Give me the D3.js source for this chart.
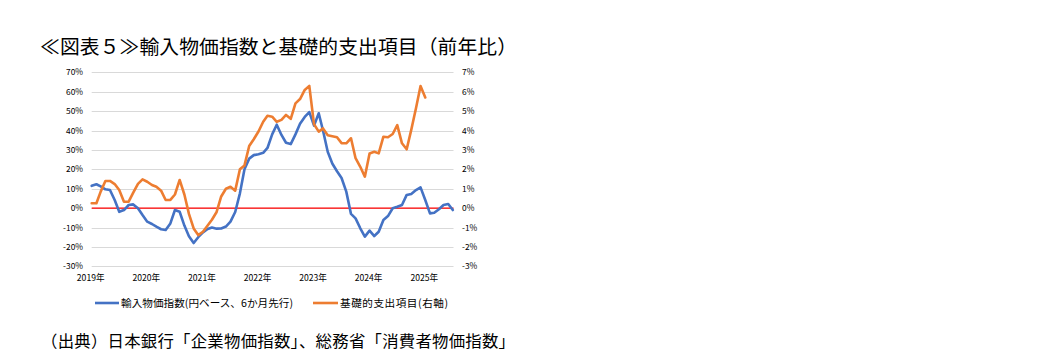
<!DOCTYPE html>
<html><head><meta charset="utf-8">
<script src="https://cdn.jsdelivr.net/npm/d3@7/dist/d3.min.js"></script>
<style>
html,body{margin:0;padding:0;background:#fff;}
svg{display:block;}
text{font-family:"Noto Sans CJK JP","Noto Sans",sans-serif;}
</style></head>
<body>
<svg id="c" width="1060" height="361"></svg>
<script>
// ---- data ----
const startMonth = "2019-01";
const yearLabels = ["2019年","2020年","2021年","2022年","2023年","2024年","2025年"];
const leftTicks = [70,60,50,40,30,20,10,0,-10,-20,-30];
const rightTicks = [7,6,5,4,3,2,1,0,-1,-2,-3];
const seriesNames = ["輸入物価指数(円ベース、6か月先行)","基礎的支出項目(右軸)"];
// import price index (yen basis, shifted 6 months ahead), % y/y, left axis
const importPrice = [
 11.5,12.3,11.2,9.7,9.3,4.2,-1.9,-1.0,1.6,1.9,-0.1,-3.6,
 -7.0,-8.2,-9.6,-10.9,-11.3,-7.9,-1.0,-1.9,-9.0,-14.5,-18.0,-15.0,
 -12.5,-10.8,-10.0,-10.6,-10.5,-9.5,-7.0,-2.0,7.6,20.0,25.5,27.3,
 27.8,28.5,31.0,38.0,43.0,37.7,33.7,33.0,38.0,43.5,47.0,49.5,
 42.5,48.9,40.0,29.0,23.0,19.0,15.5,8.5,-3.0,-5.3,-10.4,-14.7,
 -11.6,-14.4,-12.2,-6.1,-4.1,-0.1,0.7,1.6,6.8,7.3,9.3,10.7,
 4.2,-2.7,-2.4,-0.6,1.6,2.1,-1.0
];
// basic expenditure items CPI, % y/y, right axis
const basicItems = [
 0.25,0.25,0.85,1.40,1.40,1.24,0.93,0.33,0.33,0.80,1.25,1.48,
 1.36,1.19,1.10,0.90,0.42,0.42,0.70,1.45,0.70,-0.30,-1.05,-1.39,
 -1.22,-0.90,-0.60,-0.20,0.60,1.00,1.10,0.90,2.00,2.20,3.20,3.55,
 3.95,4.45,4.76,4.71,4.45,4.55,4.80,4.60,5.40,5.62,6.09,6.30,
 4.32,3.94,4.11,3.75,3.70,3.65,3.35,3.34,3.60,2.57,2.13,1.62,
 2.82,2.90,2.82,3.68,3.65,3.82,4.28,3.34,3.03,4.03,5.15,6.29,
 5.70
];

// ---- layout ----
const svg = d3.select("#c");
svg.append("rect").attr("width",1060).attr("height",361).attr("fill","#fff");
const x0 = 91.7, x1 = 452.8, yTop = 72.3, yBot = 266.3;
const parse = d3.timeParse("%Y-%m");
const t0 = parse(startMonth);
const datesB = importPrice.map((d,i)=>d3.timeMonth.offset(t0,i));
const datesO = basicItems.map((d,i)=>d3.timeMonth.offset(t0,i));
const x = d3.scaleTime().domain([t0, datesB[datesB.length-1]]).range([x0,x1]);
const yL = d3.scaleLinear().domain([-30,70]).range([yBot,yTop]);
const yR = d3.scaleLinear().domain([-3,7]).range([yBot,yTop]);

// gridlines
svg.append("g").selectAll("line").data(leftTicks).join("line")
  .attr("x1",x0).attr("x2",453.5)
  .attr("y1",d=>Math.round(yL(d))+0.5).attr("y2",d=>Math.round(yL(d))+0.5)
  .attr("stroke","#d9d9d9").attr("stroke-width",1);

// left axis labels
svg.append("g").selectAll("text").data(leftTicks).join("text")
  .attr("x",83).attr("y",d=>yL(d)+3)
  .attr("text-anchor","end").attr("font-size",8.4).attr("fill","#000")
  .text(d=>d+"%");
// right axis labels
svg.append("g").selectAll("text").data(rightTicks).join("text")
  .attr("x",462).attr("y",d=>yR(d)+3)
  .attr("text-anchor","start").attr("font-size",8.4).attr("fill","#000")
  .text(d=>d+"%");
// x axis labels
const yearDates = yearLabels.map((s,i)=>d3.timeYear.offset(t0,i));
svg.append("g").selectAll("text").data(yearLabels).join("text")
  .attr("x",(d,i)=>x(yearDates[i])-1).attr("y",281)
  .attr("text-anchor","middle").attr("font-size",8.6).attr("fill","#000")
  .text(d=>d);

// zero line
svg.append("line").attr("x1",x0).attr("x2",453.5)
  .attr("y1",yL(0)).attr("y2",yL(0))
  .attr("stroke","#ff0000").attr("stroke-width",1.2);

// series
const lineB = d3.line().x((d,i)=>x(datesB[i])).y(d=>yL(d));
const lineO = d3.line().x((d,i)=>x(datesO[i])).y(d=>yR(d));
svg.append("path").datum(importPrice).attr("d",lineB)
  .attr("fill","none").attr("stroke","#4472c4").attr("stroke-width",2.6)
  .attr("stroke-linejoin","round").attr("stroke-linecap","round");
svg.append("path").datum(basicItems).attr("d",lineO)
  .attr("fill","none").attr("stroke","#ed7d31").attr("stroke-width",2.6)
  .attr("stroke-linejoin","round").attr("stroke-linecap","round");

// legend
const leg = [
  {x1:95,x2:119,tx:121,w:172,color:"#4472c4",name:seriesNames[0]},
  {x1:313,x2:338,tx:340,w:108,color:"#ed7d31",name:seriesNames[1]}
];
const lg = svg.append("g");
leg.forEach(l=>{
  lg.append("line").attr("x1",l.x1).attr("x2",l.x2).attr("y1",303).attr("y2",303)
    .attr("stroke",l.color).attr("stroke-width",2.6);
  lg.append("text").attr("x",l.tx).attr("y",307).attr("font-size",10.6)
    .attr("textLength",l.w).attr("lengthAdjust","spacing")
    .attr("fill","#000").text(l.name);
});

// title and source
svg.append("text").attr("x",40).attr("y",54).attr("font-size",19.8)
  .attr("textLength",477).attr("lengthAdjust","spacing")
  .attr("fill","#000").text("≪図表５≫輸入物価指数と基礎的支出項目（前年比）");
svg.append("text").attr("x",41).attr("y",347).attr("font-size",16.4)
  .attr("textLength",474).attr("lengthAdjust","spacing")
  .attr("fill","#000").text("（出典）日本銀行「企業物価指数」、総務省「消費者物価指数」");
</script>
</body></html>
